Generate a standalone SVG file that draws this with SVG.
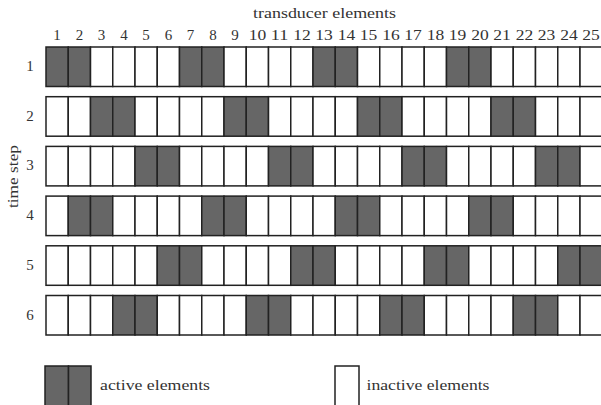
<svg xmlns="http://www.w3.org/2000/svg" width="601" height="405" viewBox="0 0 601 405">
<style>
  text { font-size: 15px; fill: #333; }
  .n { text-anchor: middle; }
  .a { fill: #666666; stroke: #222; stroke-width: 1.5; }
  .i { fill: #ffffff; stroke: #222; stroke-width: 1.5; }
</style>
<defs>
  <rect id="c" width="22.25" height="39.5"/>
</defs>
<rect width="601" height="405" fill="#fff"/>
<g id="title">
  <text style="font-family:'Liberation Serif',serif" x="253" y="18" textLength="143" lengthAdjust="spacingAndGlyphs">transducer elements</text>
</g>
<g id="column-numbers">
  <text style="font-family:'Liberation Serif',serif" class="n" x="57.1" y="39.5">1</text>
  <text style="font-family:'Liberation Serif',serif" class="n" x="79.4" y="39.5">2</text>
  <text style="font-family:'Liberation Serif',serif" class="n" x="101.6" y="39.5">3</text>
  <text style="font-family:'Liberation Serif',serif" class="n" x="123.9" y="39.5">4</text>
  <text style="font-family:'Liberation Serif',serif" class="n" x="146.1" y="39.5">5</text>
  <text style="font-family:'Liberation Serif',serif" class="n" x="168.4" y="39.5">6</text>
  <text style="font-family:'Liberation Serif',serif" class="n" x="190.6" y="39.5">7</text>
  <text style="font-family:'Liberation Serif',serif" class="n" x="212.9" y="39.5">8</text>
  <text style="font-family:'Liberation Serif',serif" class="n" x="235.1" y="39.5">9</text>
  <text style="font-family:'Liberation Serif',serif" class="n" x="257.4" y="39.5" textLength="17.5" lengthAdjust="spacingAndGlyphs">10</text>
  <text style="font-family:'Liberation Serif',serif" class="n" x="279.6" y="39.5" textLength="17.5" lengthAdjust="spacingAndGlyphs">11</text>
  <text style="font-family:'Liberation Serif',serif" class="n" x="301.9" y="39.5" textLength="17.5" lengthAdjust="spacingAndGlyphs">12</text>
  <text style="font-family:'Liberation Serif',serif" class="n" x="324.1" y="39.5" textLength="17.5" lengthAdjust="spacingAndGlyphs">13</text>
  <text style="font-family:'Liberation Serif',serif" class="n" x="346.4" y="39.5" textLength="17.5" lengthAdjust="spacingAndGlyphs">14</text>
  <text style="font-family:'Liberation Serif',serif" class="n" x="368.6" y="39.5" textLength="17.5" lengthAdjust="spacingAndGlyphs">15</text>
  <text style="font-family:'Liberation Serif',serif" class="n" x="390.9" y="39.5" textLength="17.5" lengthAdjust="spacingAndGlyphs">16</text>
  <text style="font-family:'Liberation Serif',serif" class="n" x="413.1" y="39.5" textLength="17.5" lengthAdjust="spacingAndGlyphs">17</text>
  <text style="font-family:'Liberation Serif',serif" class="n" x="435.4" y="39.5" textLength="17.5" lengthAdjust="spacingAndGlyphs">18</text>
  <text style="font-family:'Liberation Serif',serif" class="n" x="457.6" y="39.5" textLength="17.5" lengthAdjust="spacingAndGlyphs">19</text>
  <text style="font-family:'Liberation Serif',serif" class="n" x="479.9" y="39.5" textLength="17.5" lengthAdjust="spacingAndGlyphs">20</text>
  <text style="font-family:'Liberation Serif',serif" class="n" x="502.1" y="39.5" textLength="17.5" lengthAdjust="spacingAndGlyphs">21</text>
  <text style="font-family:'Liberation Serif',serif" class="n" x="524.4" y="39.5" textLength="17.5" lengthAdjust="spacingAndGlyphs">22</text>
  <text style="font-family:'Liberation Serif',serif" class="n" x="546.6" y="39.5" textLength="17.5" lengthAdjust="spacingAndGlyphs">23</text>
  <text style="font-family:'Liberation Serif',serif" class="n" x="568.9" y="39.5" textLength="17.5" lengthAdjust="spacingAndGlyphs">24</text>
  <text style="font-family:'Liberation Serif',serif" class="n" x="591.1" y="39.5" textLength="17.5" lengthAdjust="spacingAndGlyphs">25</text>
</g>
<g id="axis-label">
  <text style="font-family:'Liberation Serif',serif" transform="translate(18,176.5) rotate(-90)" class="n" x="0" y="0" textLength="63" lengthAdjust="spacingAndGlyphs">time step</text>
</g>
<g id="row-labels">
  <text style="font-family:'Liberation Serif',serif" class="n" x="30" y="71">1</text>
  <text style="font-family:'Liberation Serif',serif" class="n" x="30" y="120.7">2</text>
  <text style="font-family:'Liberation Serif',serif" class="n" x="30" y="170.4">3</text>
  <text style="font-family:'Liberation Serif',serif" class="n" x="30" y="220.1">4</text>
  <text style="font-family:'Liberation Serif',serif" class="n" x="30" y="269.8">5</text>
  <text style="font-family:'Liberation Serif',serif" class="n" x="30" y="319.5">6</text>
</g>
<g id="row1">
  <use href="#c" x="46" y="47" class="a"/><use href="#c" x="68.25" y="47" class="a"/><use href="#c" x="90.5" y="47" class="i"/><use href="#c" x="112.75" y="47" class="i"/><use href="#c" x="135" y="47" class="i"/><use href="#c" x="157.25" y="47" class="i"/><use href="#c" x="179.5" y="47" class="a"/><use href="#c" x="201.75" y="47" class="a"/><use href="#c" x="224" y="47" class="i"/><use href="#c" x="246.25" y="47" class="i"/><use href="#c" x="268.5" y="47" class="i"/><use href="#c" x="290.75" y="47" class="i"/><use href="#c" x="313" y="47" class="a"/><use href="#c" x="335.25" y="47" class="a"/><use href="#c" x="357.5" y="47" class="i"/><use href="#c" x="379.75" y="47" class="i"/><use href="#c" x="402" y="47" class="i"/><use href="#c" x="424.25" y="47" class="i"/><use href="#c" x="446.5" y="47" class="a"/><use href="#c" x="468.75" y="47" class="a"/><use href="#c" x="491" y="47" class="i"/><use href="#c" x="513.25" y="47" class="i"/><use href="#c" x="535.5" y="47" class="i"/><use href="#c" x="557.75" y="47" class="i"/><use href="#c" x="580" y="47" class="i"/>
</g>
<g id="row2">
  <use href="#c" x="46" y="96.7" class="i"/><use href="#c" x="68.25" y="96.7" class="i"/><use href="#c" x="90.5" y="96.7" class="a"/><use href="#c" x="112.75" y="96.7" class="a"/><use href="#c" x="135" y="96.7" class="i"/><use href="#c" x="157.25" y="96.7" class="i"/><use href="#c" x="179.5" y="96.7" class="i"/><use href="#c" x="201.75" y="96.7" class="i"/><use href="#c" x="224" y="96.7" class="a"/><use href="#c" x="246.25" y="96.7" class="a"/><use href="#c" x="268.5" y="96.7" class="i"/><use href="#c" x="290.75" y="96.7" class="i"/><use href="#c" x="313" y="96.7" class="i"/><use href="#c" x="335.25" y="96.7" class="i"/><use href="#c" x="357.5" y="96.7" class="a"/><use href="#c" x="379.75" y="96.7" class="a"/><use href="#c" x="402" y="96.7" class="i"/><use href="#c" x="424.25" y="96.7" class="i"/><use href="#c" x="446.5" y="96.7" class="i"/><use href="#c" x="468.75" y="96.7" class="i"/><use href="#c" x="491" y="96.7" class="a"/><use href="#c" x="513.25" y="96.7" class="a"/><use href="#c" x="535.5" y="96.7" class="i"/><use href="#c" x="557.75" y="96.7" class="i"/><use href="#c" x="580" y="96.7" class="i"/>
</g>
<g id="row3">
  <use href="#c" x="46" y="146.4" class="i"/><use href="#c" x="68.25" y="146.4" class="i"/><use href="#c" x="90.5" y="146.4" class="i"/><use href="#c" x="112.75" y="146.4" class="i"/><use href="#c" x="135" y="146.4" class="a"/><use href="#c" x="157.25" y="146.4" class="a"/><use href="#c" x="179.5" y="146.4" class="i"/><use href="#c" x="201.75" y="146.4" class="i"/><use href="#c" x="224" y="146.4" class="i"/><use href="#c" x="246.25" y="146.4" class="i"/><use href="#c" x="268.5" y="146.4" class="a"/><use href="#c" x="290.75" y="146.4" class="a"/><use href="#c" x="313" y="146.4" class="i"/><use href="#c" x="335.25" y="146.4" class="i"/><use href="#c" x="357.5" y="146.4" class="i"/><use href="#c" x="379.75" y="146.4" class="i"/><use href="#c" x="402" y="146.4" class="a"/><use href="#c" x="424.25" y="146.4" class="a"/><use href="#c" x="446.5" y="146.4" class="i"/><use href="#c" x="468.75" y="146.4" class="i"/><use href="#c" x="491" y="146.4" class="i"/><use href="#c" x="513.25" y="146.4" class="i"/><use href="#c" x="535.5" y="146.4" class="a"/><use href="#c" x="557.75" y="146.4" class="a"/><use href="#c" x="580" y="146.4" class="i"/>
</g>
<g id="row4">
  <use href="#c" x="46" y="196.1" class="i"/><use href="#c" x="68.25" y="196.1" class="a"/><use href="#c" x="90.5" y="196.1" class="a"/><use href="#c" x="112.75" y="196.1" class="i"/><use href="#c" x="135" y="196.1" class="i"/><use href="#c" x="157.25" y="196.1" class="i"/><use href="#c" x="179.5" y="196.1" class="i"/><use href="#c" x="201.75" y="196.1" class="a"/><use href="#c" x="224" y="196.1" class="a"/><use href="#c" x="246.25" y="196.1" class="i"/><use href="#c" x="268.5" y="196.1" class="i"/><use href="#c" x="290.75" y="196.1" class="i"/><use href="#c" x="313" y="196.1" class="i"/><use href="#c" x="335.25" y="196.1" class="a"/><use href="#c" x="357.5" y="196.1" class="a"/><use href="#c" x="379.75" y="196.1" class="i"/><use href="#c" x="402" y="196.1" class="i"/><use href="#c" x="424.25" y="196.1" class="i"/><use href="#c" x="446.5" y="196.1" class="i"/><use href="#c" x="468.75" y="196.1" class="a"/><use href="#c" x="491" y="196.1" class="a"/><use href="#c" x="513.25" y="196.1" class="i"/><use href="#c" x="535.5" y="196.1" class="i"/><use href="#c" x="557.75" y="196.1" class="i"/><use href="#c" x="580" y="196.1" class="i"/>
</g>
<g id="row5">
  <use href="#c" x="46" y="245.8" class="i"/><use href="#c" x="68.25" y="245.8" class="i"/><use href="#c" x="90.5" y="245.8" class="i"/><use href="#c" x="112.75" y="245.8" class="i"/><use href="#c" x="135" y="245.8" class="i"/><use href="#c" x="157.25" y="245.8" class="a"/><use href="#c" x="179.5" y="245.8" class="a"/><use href="#c" x="201.75" y="245.8" class="i"/><use href="#c" x="224" y="245.8" class="i"/><use href="#c" x="246.25" y="245.8" class="i"/><use href="#c" x="268.5" y="245.8" class="i"/><use href="#c" x="290.75" y="245.8" class="a"/><use href="#c" x="313" y="245.8" class="a"/><use href="#c" x="335.25" y="245.8" class="i"/><use href="#c" x="357.5" y="245.8" class="i"/><use href="#c" x="379.75" y="245.8" class="i"/><use href="#c" x="402" y="245.8" class="i"/><use href="#c" x="424.25" y="245.8" class="a"/><use href="#c" x="446.5" y="245.8" class="a"/><use href="#c" x="468.75" y="245.8" class="i"/><use href="#c" x="491" y="245.8" class="i"/><use href="#c" x="513.25" y="245.8" class="i"/><use href="#c" x="535.5" y="245.8" class="i"/><use href="#c" x="557.75" y="245.8" class="a"/><use href="#c" x="580" y="245.8" class="a"/>
</g>
<g id="row6">
  <use href="#c" x="46" y="295.5" class="i"/><use href="#c" x="68.25" y="295.5" class="i"/><use href="#c" x="90.5" y="295.5" class="i"/><use href="#c" x="112.75" y="295.5" class="a"/><use href="#c" x="135" y="295.5" class="a"/><use href="#c" x="157.25" y="295.5" class="i"/><use href="#c" x="179.5" y="295.5" class="i"/><use href="#c" x="201.75" y="295.5" class="i"/><use href="#c" x="224" y="295.5" class="i"/><use href="#c" x="246.25" y="295.5" class="a"/><use href="#c" x="268.5" y="295.5" class="a"/><use href="#c" x="290.75" y="295.5" class="i"/><use href="#c" x="313" y="295.5" class="i"/><use href="#c" x="335.25" y="295.5" class="i"/><use href="#c" x="357.5" y="295.5" class="i"/><use href="#c" x="379.75" y="295.5" class="a"/><use href="#c" x="402" y="295.5" class="a"/><use href="#c" x="424.25" y="295.5" class="i"/><use href="#c" x="446.5" y="295.5" class="i"/><use href="#c" x="468.75" y="295.5" class="i"/><use href="#c" x="491" y="295.5" class="i"/><use href="#c" x="513.25" y="295.5" class="a"/><use href="#c" x="535.5" y="295.5" class="a"/><use href="#c" x="557.75" y="295.5" class="i"/><use href="#c" x="580" y="295.5" class="i"/>
</g>
<g id="legend-active">
  <rect class="a" x="45" y="366" width="23.5" height="45"/>
  <rect class="a" x="68.5" y="366" width="22.5" height="45"/>
  <text style="font-family:'Liberation Serif',serif" x="100" y="390" textLength="110" lengthAdjust="spacingAndGlyphs">active elements</text>
</g>
<g id="legend-inactive">
  <rect class="i" x="335" y="366" width="24" height="45"/>
  <text style="font-family:'Liberation Serif',serif" x="366.5" y="390" textLength="123" lengthAdjust="spacingAndGlyphs">inactive elements</text>
</g>
<g id="connectors"/>
</svg>
